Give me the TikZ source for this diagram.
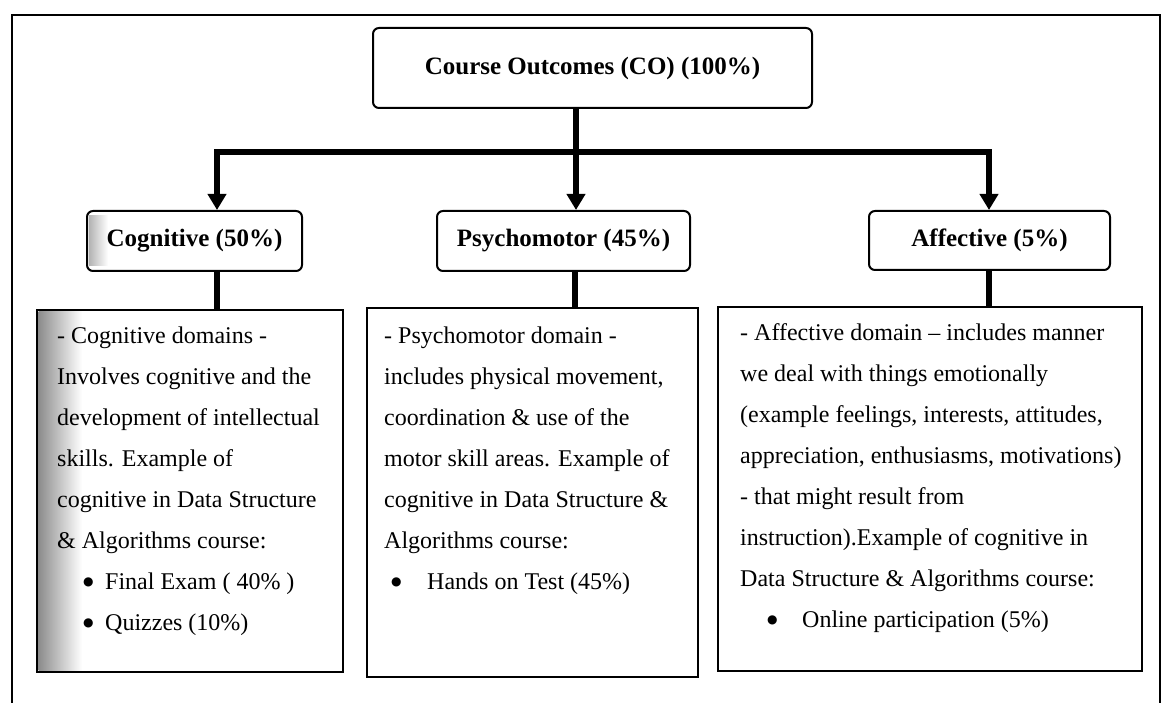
\documentclass[tikz,border=0pt]{standalone}
\usepackage{fontspec}
\setmainfont{Liberation Serif}
\newfontfamily\bulletfont{DejaVu Sans}
\newcommand{\bigbul}{\raisebox{4pt}{\bulletfont\fontsize{12}{12}\selectfont ●}}
\usetikzlibrary{arrows.meta}
\begin{document}
\begin{tikzpicture}[x=1pt,y=-1pt,
  titlebox/.style={draw, line width=2pt, rounded corners=6pt, inner sep=0pt,
    font=\fontsize{25}{30}\selectfont\bfseries},
  bodybox/.style={draw, line width=2.4pt, inner sep=0pt},
  txt/.style={anchor=north west, inner sep=0pt, align=left,
    font=\fontsize{24}{41.1}\selectfont},
  conn/.style={line width=5.5pt, line join=miter},
  arr/.style={conn, -{Triangle[width=18pt,length=16pt]}},
]
\useasboundingbox (0,0) rectangle (1167,703);

% outer frame (open at the bottom)
\draw[line width=2pt] (12,703) -- (12,15) -- (1160,15) -- (1160,703);

% scan shading on the cognitive boxes
\shade[left color=black!45, right color=white] (38.5,311.5) rectangle (82,670.5);
\shade[left color=black!30, right color=white] (89,216) rectangle (108,266);

% title boxes
\node[titlebox, minimum width=439pt, minimum height=80pt] (co) at (592.5,68) {Course Outcomes (CO) (100\%)};
\node[titlebox, minimum width=215pt, minimum height=60pt] (cog) at (194.5,241) {Cognitive (50\%)};
\node[titlebox, minimum width=253pt, minimum height=60pt] (psy) at (563.5,241) {Psychomotor (45\%)};
\node[titlebox, minimum width=241pt, minimum height=59pt] (aff) at (989.5,240.5) {Affective (5\%)};

% body boxes
\node[bodybox, minimum width=306pt, minimum height=362pt] (cogb) at (190,491) {};
\node[bodybox, minimum width=331pt, minimum height=369pt] (psyb) at (532.5,492.5) {};
\node[bodybox, minimum width=424pt, minimum height=364pt] (affb) at (930,489) {};

% body texts
\node[txt] (cogt) at (57,314.2) {\strut- Cognitive domains -\\
Involves cognitive and the\\
development of intellectual\\
skills. Example of\\
cognitive in Data Structure\\
\& Algorithms course:\\
\hspace*{26pt}\makebox[22pt][l]{\bigbul}Final Exam ( 40\% )\\
\hspace*{26pt}\makebox[22pt][l]{\bigbul}Quizzes (10\%)};

\node[txt] (psyt) at (384,314.2) {\strut- Psychomotor domain -\\
includes physical movement,\\
coordination \& use of the\\
motor skill areas. Example of\\
cognitive in Data Structure \&\\
Algorithms course:\\
\hspace*{7pt}\makebox[36pt][l]{\bigbul}Hands on Test (45\%)};

\node[txt] (afft) at (740,311.2) {\strut- Affective domain – includes manner\\
we deal with things emotionally\\
(example feelings, interests, attitudes,\\
appreciation, enthusiasms, motivations)\\
- that might result from\\
instruction).Example of cognitive in\\
Data Structure \& Algorithms course:\\
\hspace*{27pt}\makebox[35pt][l]{\bigbul}Online participation (5\%)};

% connectors
\coordinate (jx) at (576,0);
\coordinate (cogx) at (217,0);
\coordinate (psyx) at (575,0);
\coordinate (affx) at (989,0);
\coordinate (bar) at (576,152);

\draw[arr] (co.south -| jx) -- (psy.north -| jx);
\draw[arr] (bar) -| (cog.north -| cogx);
\draw[arr] (bar) -| (aff.north -| affx);

\draw[conn] (cog.south -| cogx) -- (cogb.north -| cogx);
\draw[conn] (psy.south -| psyx) -- (psyb.north -| psyx);
\draw[conn] (aff.south -| affx) -- (affb.north -| affx);
\end{tikzpicture}
\end{document}
